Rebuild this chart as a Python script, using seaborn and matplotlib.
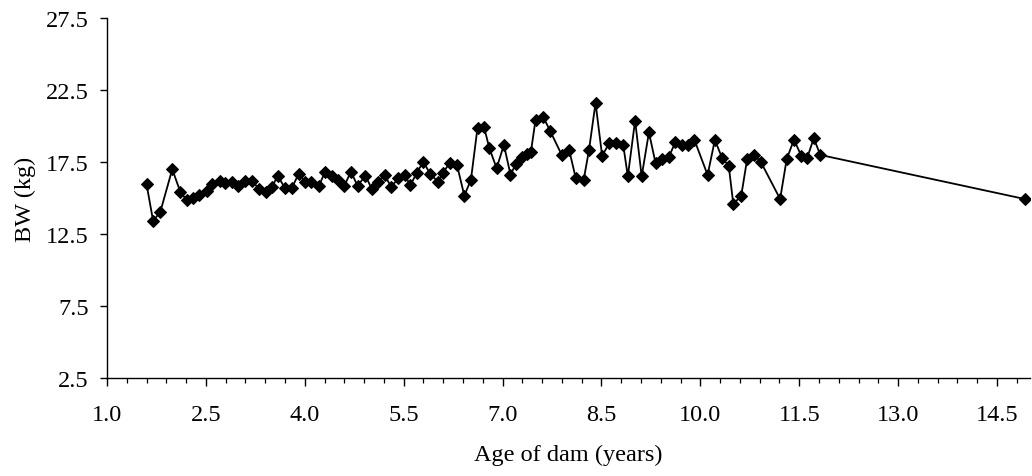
import numpy as np
import pandas as pd
import matplotlib
matplotlib.use("Agg")
import matplotlib.pyplot as plt
from matplotlib.ticker import MultipleLocator, FixedLocator
import seaborn as sns

age = [1.60, 1.70, 1.81, 1.99, 2.11, 2.21, 2.31, 2.40, 2.51, 2.60,
       2.71, 2.79, 2.89, 2.98, 3.09, 3.20, 3.31, 3.41, 3.50, 3.59,
       3.70, 3.80, 3.91, 4.00, 4.10, 4.21, 4.31, 4.41, 4.50, 4.60,
       4.70, 4.80, 4.92, 5.02, 5.11, 5.21, 5.31, 5.42, 5.52, 5.60,
       5.70, 5.80, 5.90, 6.02, 6.10, 6.20, 6.31, 6.42, 6.52, 6.62,
       6.72, 6.80, 6.91, 7.02, 7.12, 7.20, 7.29, 7.37, 7.43, 7.50,
       7.62, 7.72, 7.90, 8.01, 8.11, 8.23, 8.31, 8.41, 8.51, 8.62,
       8.72, 8.83, 8.90, 9.01, 9.11, 9.22, 9.32, 9.42, 9.52, 9.62,
       9.72, 9.82, 9.91, 10.11, 10.22, 10.33, 10.43, 10.50, 10.62, 10.71,
       10.82, 10.92, 11.21, 11.31, 11.42, 11.53, 11.62, 11.72, 11.82, 14.92]
bw = [15.95, 13.40, 14.06, 17.00, 15.45, 14.84, 15.02, 15.22, 15.50, 15.97,
      16.20, 16.04, 16.09, 15.85, 16.20, 16.20, 15.60, 15.40, 15.74, 16.55,
      15.67, 15.67, 16.70, 16.13, 16.09, 15.81, 16.83, 16.55, 16.27, 15.85,
      16.83, 15.85, 16.55, 15.60, 16.09, 16.60, 15.78, 16.37, 16.58, 15.87,
      16.77, 17.52, 16.67, 16.13, 16.77, 17.45, 17.27, 15.16, 16.27, 19.88,
      19.91, 18.45, 17.07, 18.69, 16.63, 17.33, 17.83, 18.06, 18.20, 20.43,
      20.60, 19.67, 17.97, 18.34, 16.38, 16.26, 18.30, 21.60, 17.94, 18.81,
      18.82, 18.68, 16.51, 20.37, 16.51, 19.56, 17.43, 17.71, 17.83, 18.87,
      18.68, 18.68, 19.03, 16.60, 19.03, 17.78, 17.24, 14.58, 15.16, 17.71,
      17.99, 17.48, 14.93, 17.71, 19.05, 17.94, 17.78, 19.15, 17.99, 14.93]

df = pd.DataFrame({"age": age, "bw": bw})

sns.set_theme(style="white")
plt.rcParams["font.family"] = ["Liberation Serif", "DejaVu Serif"]

fig = plt.figure(figsize=(10.32, 4.77), dpi=100)
ax = fig.add_axes([107 / 1032, 1 - 379 / 477, (1030 - 107) / 1032, 360 / 477])

sns.lineplot(data=df, x="age", y="bw", ax=ax, color="black", linewidth=1.3,
             marker="D", markersize=6.2, markeredgecolor="black",
             markerfacecolor="black", estimator=None, sort=False)

ax.set_xlim(1.0, 15.0)
ax.set_ylim(2.5, 27.5)
ax.xaxis.set_major_locator(FixedLocator(np.arange(1.0, 14.6, 1.5)))
ax.xaxis.set_minor_locator(MultipleLocator(0.3, offset=1.0))
ax.yaxis.set_major_locator(FixedLocator(np.arange(2.5, 27.6, 5.0)))
ax.xaxis.set_major_formatter(matplotlib.ticker.FormatStrFormatter("%.1f"))
ax.yaxis.set_major_formatter(matplotlib.ticker.FormatStrFormatter("%.1f"))

for s in ["top", "right"]:
    ax.spines[s].set_visible(False)
for s in ["left", "bottom"]:
    ax.spines[s].set_color("black")
    ax.spines[s].set_linewidth(1.0)

ax.tick_params(axis="x", which="major", direction="out", length=6, width=1.0,
               color="black", bottom=True, labelsize=17.5, pad=13, labelcolor="black")
ax.tick_params(axis="x", which="minor", direction="out", length=3.8, width=0.9,
               color="black", bottom=True)
ax.tick_params(axis="y", which="major", direction="out", length=5, width=1.0,
               color="black", left=True, labelsize=17.5, pad=8, labelcolor="black")

ax.set_xlabel("Age of dam (years)", fontsize=17.5, color="black", labelpad=13)
ax.set_ylabel("BW (kg)", fontsize=17.5, color="black", labelpad=7)
ax.grid(False)

fig.savefig("out.png", dpi=100, facecolor="white")
